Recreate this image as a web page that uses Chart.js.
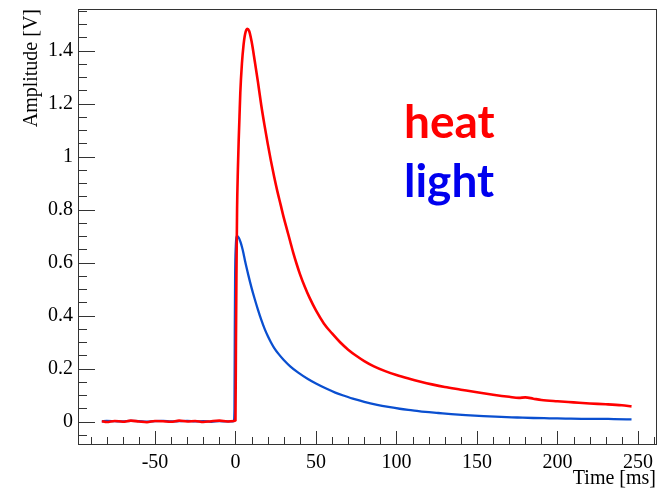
<!DOCTYPE html>
<html>
<head>
<meta charset="utf-8">
<script src="https://cdn.jsdelivr.net/npm/chart.js@4"></script>
<style>
  html, body { margin: 0; padding: 0; background: #fff; overflow: hidden; }
</style>
</head>
<body>
<canvas id="pulseChart" width="664" height="488"></canvas>
<script>
// Heat channel (red)
const heatTime = [-83, -80, -75, -70, -65, -60, -55, -50, -45, -40, -35, -30, -25, -20, -15, -10, -5, -1,
  0, 0.3, 0.6, 1, 1.5, 2, 2.5, 3, 4, 5, 6, 7.3, 8.5, 10, 12, 14, 16, 18, 20, 22, 24, 26, 28, 30, 32, 34, 36, 38,
  40, 43, 46, 50, 55, 60, 65, 70, 75, 80, 86, 93, 100, 108, 115, 122, 130, 140, 150, 160, 170, 176, 180,
  185, 190, 200, 210, 220, 230, 240, 246];
const heatAmp = [0.002, -0.001, 0.003, 0.000, 0.004, 0.001, -0.002, 0.003, 0.002, 0.000, 0.004, 0.001, 0.003, -0.001, 0.002, 0.004, 0.001, 0.003,
  0.005, 0.30, 0.55, 0.80, 0.95, 1.06, 1.15, 1.24, 1.35, 1.42, 1.463, 1.482, 1.474, 1.435, 1.36, 1.28, 1.195, 1.12, 1.05, 0.985, 0.925, 0.87, 0.82, 0.77, 0.725, 0.68, 0.635, 0.595,
  0.558, 0.51, 0.468, 0.42, 0.37, 0.333, 0.30, 0.272, 0.249, 0.229, 0.209, 0.191, 0.176, 0.162, 0.151, 0.141, 0.131, 0.121, 0.111, 0.102, 0.094, 0.090, 0.092,
  0.087, 0.082, 0.077, 0.073, 0.069, 0.066, 0.062, 0.058];

// Light channel (blue)
const lightTime = [-83, -80, -75, -70, -65, -60, -55, -50, -45, -40, -35, -30, -25, -20, -15, -10, -5, -1,
  -0.6, -0.4, -0.2, 0.2, 1, 2, 3, 4, 5, 6, 8, 10, 12, 14, 16, 18, 20, 22, 24, 27, 30, 34, 39, 45, 50, 56, 62, 68, 74,
  80, 88, 95, 102, 110, 118, 126, 134, 143, 154, 165, 175, 185, 195, 205, 215, 225, 235, 246];
const lightAmp = [0.001, 0.003, 0.002, 0.001, 0.003, 0.002, 0.000, 0.002, 0.003, 0.001, 0.002, 0.003, 0.001, 0.002, 0.000, 0.002, 0.001, 0.002,
  0.05, 0.35, 0.55, 0.66, 0.70, 0.695, 0.68, 0.66, 0.635, 0.605, 0.553, 0.505, 0.462, 0.422, 0.385, 0.352, 0.324, 0.30, 0.279, 0.254, 0.233, 0.209, 0.185, 0.161, 0.144, 0.126, 0.110, 0.097, 0.085,
  0.075, 0.064, 0.056, 0.049, 0.043, 0.037, 0.033, 0.029, 0.025, 0.021, 0.018, 0.016, 0.014, 0.013, 0.012, 0.011, 0.011, 0.010, 0.009];

const xTicks = [-50, 0, 50, 100, 150, 200, 250];
const yTicks = [0, 0.2, 0.4, 0.6, 0.8, 1, 1.2, 1.4];

const toPoints = (ts, vs) => ts.map((t, i) => ({ x: t, y: vs[i] }));

// ROOT-like frame with inward ticks, axis titles and text labels
const rootFrame = {
  id: "rootFrame",
  afterDraw(chart) {
    const { ctx, chartArea: a, scales } = chart;
    const xs = scales.x, ys = scales.y;
    ctx.save();
    ctx.strokeStyle = "#333";
    ctx.lineWidth = 1;
    ctx.strokeRect(a.left + 0.5, a.top + 0.5, a.right - a.left, a.bottom - a.top);

    ctx.beginPath();
    for (let v = -90; v <= 260; v += 10) {
      const px = Math.round(xs.getPixelForValue(v)) + 0.5;
      if (px <= a.left || px >= a.right) continue;
      const len = v % 50 === 0 ? 13 : 7;
      ctx.moveTo(px, a.bottom);
      ctx.lineTo(px, a.bottom - len);
    }
    for (let i = -1; i <= 31; i++) {
      const v = i * 0.05;
      const py = Math.round(ys.getPixelForValue(v)) + 0.5;
      if (py <= a.top || py >= a.bottom) continue;
      const len = i % 4 === 0 ? 17 : 9;
      ctx.moveTo(a.left, py);
      ctx.lineTo(a.left + len, py);
    }
    ctx.stroke();

    ctx.fillStyle = "#000";
    ctx.font = "20px 'Liberation Serif'";
    ctx.textAlign = "right";
    ctx.textBaseline = "alphabetic";
    ctx.fillText("Time [ms]", a.right, 484);
    ctx.save();
    ctx.translate(37, a.top);
    ctx.rotate(-Math.PI / 2);
    ctx.fillText("Amplitude [V]", 0, 0);
    ctx.restore();

    ctx.font = "bold 46px Lato";
    ctx.textAlign = "left";
    ctx.fillStyle = "#ff0000";
    ctx.fillText("heat", 404, 138);
    ctx.fillStyle = "#0000ee";
    ctx.fillText("light", 404, 197);
    ctx.restore();
  }
};

const ctx = document.getElementById("pulseChart").getContext("2d");
new Chart(ctx, {
  type: "scatter",
  data: {
    datasets: [
      {
        label: "heat",
        data: toPoints(heatTime, heatAmp),
        showLine: true,
        borderColor: "#ff0000",
        borderWidth: 2.6,
        pointRadius: 0,
        cubicInterpolationMode: "monotone",
      },
      {
        label: "light",
        data: toPoints(lightTime, lightAmp),
        showLine: true,
        borderColor: "#0a4fd0",
        borderWidth: 2.3,
        pointRadius: 0,
        cubicInterpolationMode: "monotone",
      },
    ],
  },
  options: {
    responsive: false,
    animation: false,
    layout: { padding: { top: 9, right: 8, left: 0, bottom: 0 } },
    plugins: { legend: { display: false }, tooltip: { enabled: false } },
    scales: {
      x: {
        type: "linear",
        min: -97.8,
        max: 261.2,
        afterBuildTicks: (axis) => { axis.ticks = xTicks.map((v) => ({ value: v })); },
        afterFit: (axis) => { axis.height = 44; axis.paddingLeft = 0; axis.paddingRight = 0; },
        grid: { display: false, drawTicks: false },
        border: { display: false },
        ticks: { padding: 7, color: "#000", font: { family: "Liberation Serif", size: 20 }, maxRotation: 0 },
      },
      y: {
        type: "linear",
        min: -0.084,
        max: 1.557,
        afterBuildTicks: (axis) => { axis.ticks = yTicks.map((v) => ({ value: v })); },
        afterFit: (axis) => { axis.width = 78; axis.paddingTop = 0; axis.paddingBottom = 0; },
        grid: { display: false, drawTicks: false },
        border: { display: false },
        ticks: {
          padding: 5,
          color: "#000",
          font: { family: "Liberation Serif", size: 20 },
          callback: (v) => String(v),
        },
      },
    },
  },
  plugins: [rootFrame],
});
</script>
</body>
</html>
